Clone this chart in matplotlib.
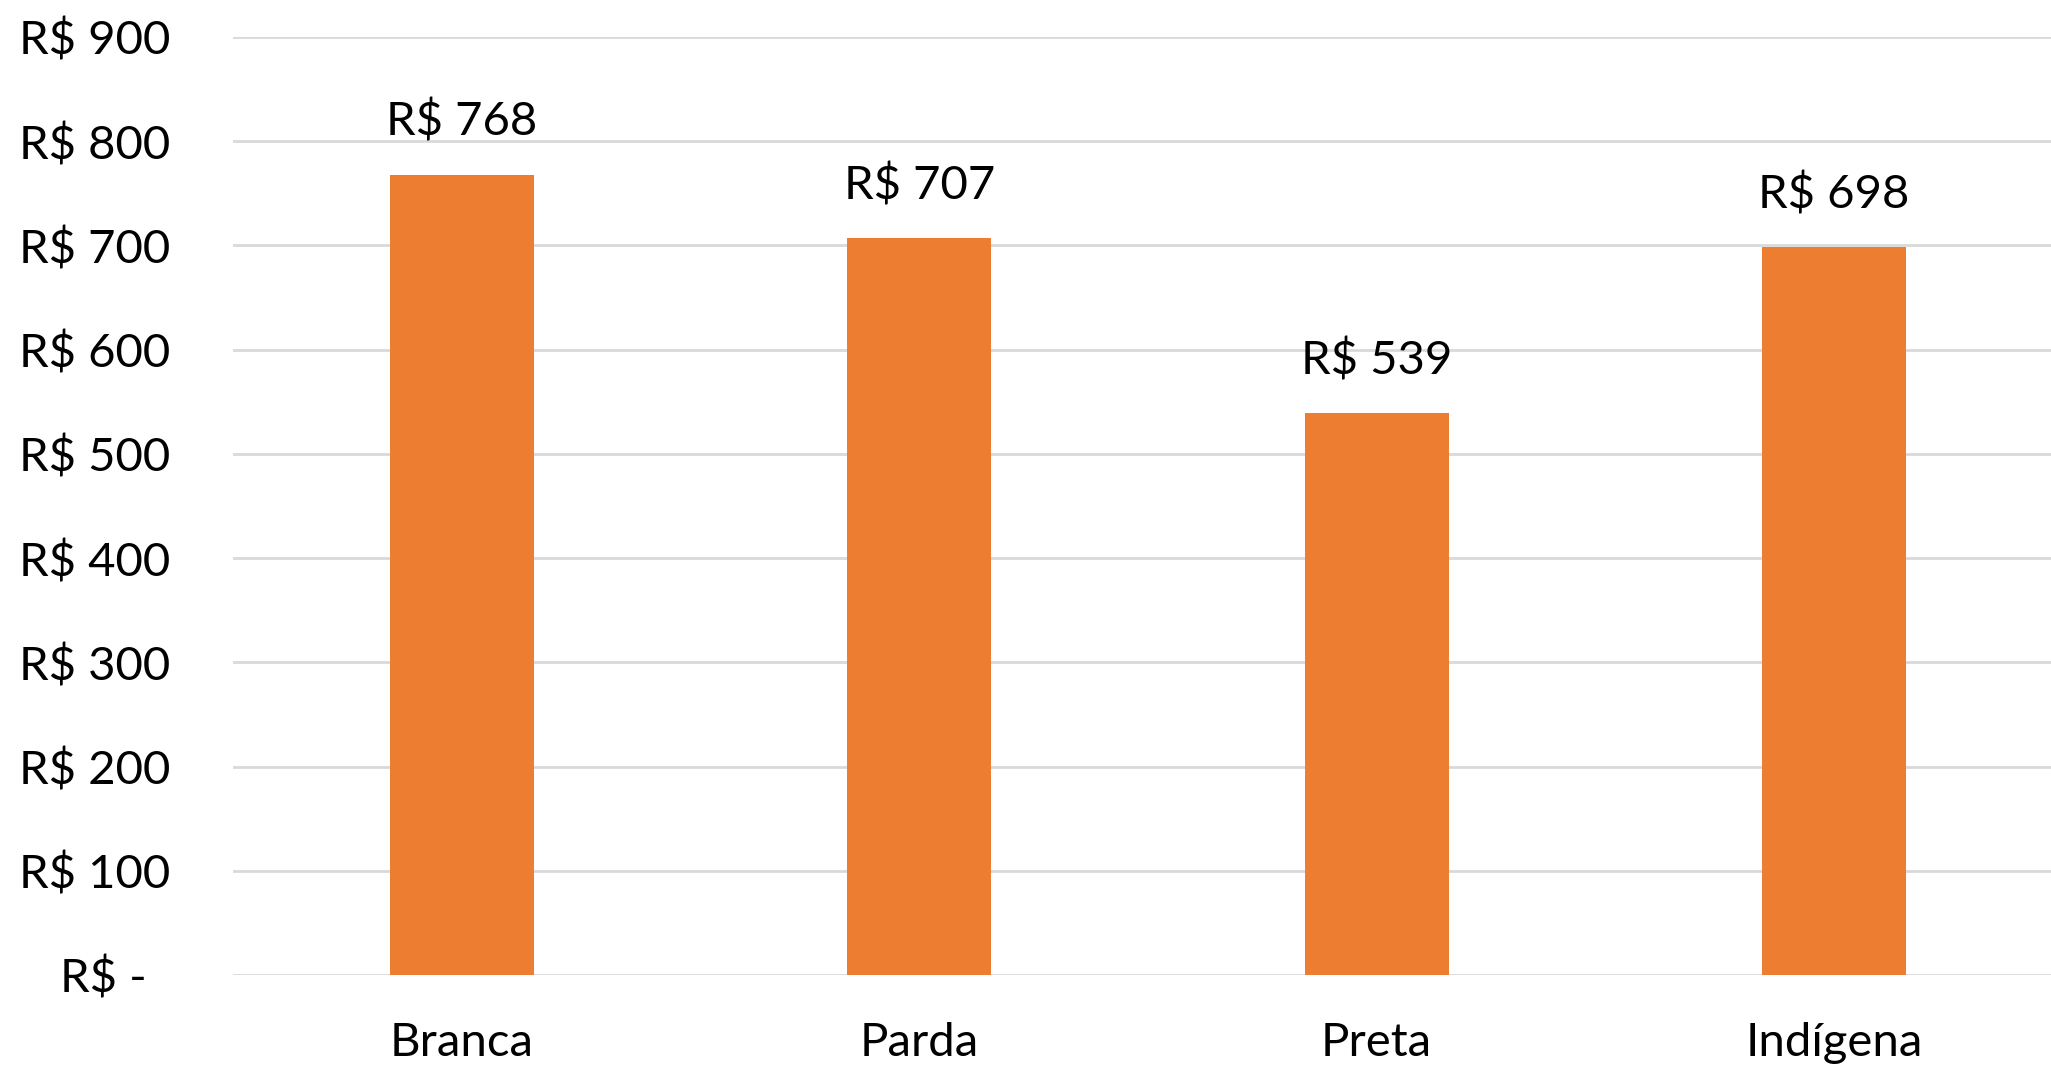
import matplotlib.pyplot as plt

# data
categories = ["Branca", "Parda", "Preta", "Indígena"]
values = [768, 707, 539, 698]
yticks = [0, 100, 200, 300, 400, 500, 600, 700, 800, 900]
ytick_labels = ["R$ -  ", "R$ 100", "R$ 200", "R$ 300", "R$ 400",
                "R$ 500", "R$ 600", "R$ 700", "R$ 800", "R$ 900"]

plt.rcParams['font.family'] = ['Lato', 'DejaVu Sans']

fig = plt.figure(figsize=(20.51, 10.68), dpi=100)
ax = fig.add_axes([0.1136, 0.0871, 0.8922, 0.8783])

x = list(range(len(categories)))
bars = ax.bar(x, values, width=0.315, color="#ED7D31", zorder=3)

for xi, v in zip(x, values):
    ax.annotate("R$ %d" % v, (xi, v), xytext=(0, 22), textcoords="offset points",
                ha="center", va="bottom", fontsize=34, color="#000000")

ax.set_xlim(-0.5, len(categories) - 0.5)
ax.set_ylim(0, 900)
ax.set_yticks(yticks)
ax.set_yticklabels(ytick_labels)
ax.set_xticks(x)
ax.set_xticklabels(categories)

ax.grid(axis="y", color="#D9D9D9", linewidth=2, zorder=0)
for s in ax.spines.values():
    s.set_visible(False)
ax.tick_params(axis="both", length=0, labelsize=34, colors="#000000")
ax.tick_params(axis="y", pad=45)
ax.tick_params(axis="x", pad=34)

fig.savefig("out.png", dpi=100)
